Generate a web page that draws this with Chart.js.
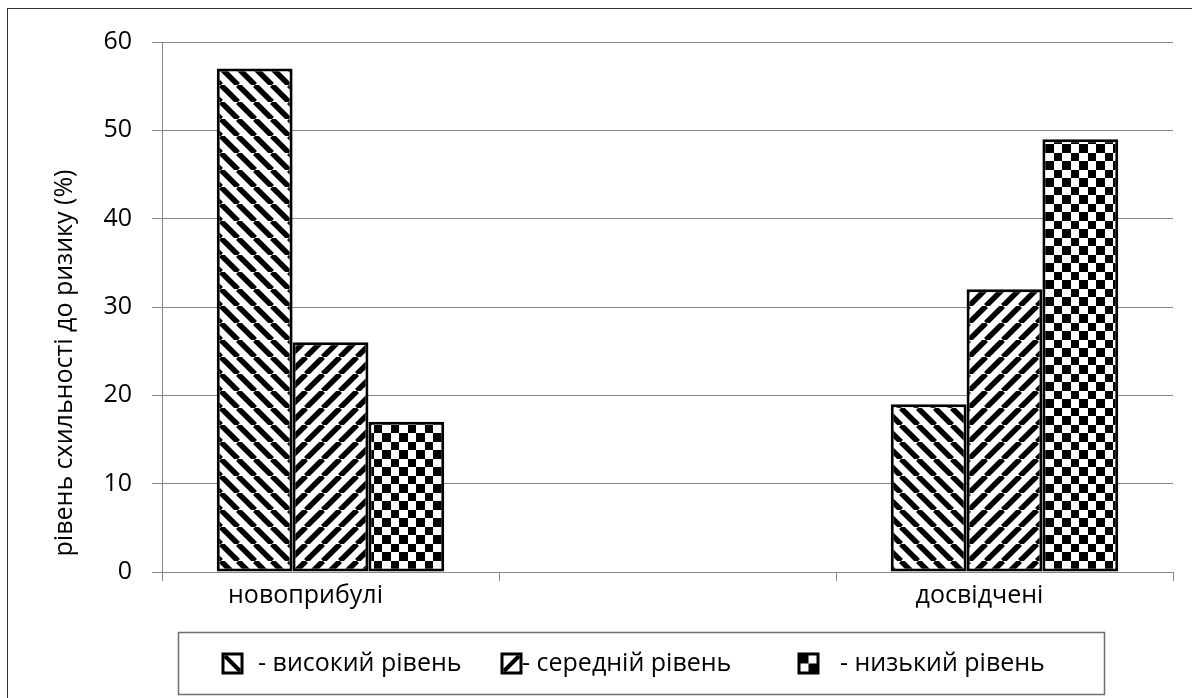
<!DOCTYPE html>
<html>
<head>
<meta charset="utf-8">
<script src="https://cdn.jsdelivr.net/npm/chart.js@4.4.1/dist/chart.umd.min.js"></script>
<style>
  html, body { margin: 0; padding: 0; background: #fff; }
  #wrap { width: 1192px; height: 698px; position: relative; }
</style>
</head>
<body>
<div id="wrap"><canvas id="riskChart" width="1192" height="698"></canvas></div>
<script>
// data
const categories = ['новоприбулі', '', 'досвідчені'];
const seriesNames = ['високий рівень', 'середній рівень', 'низький рівень'];
const highLevel = [57, null, 19];
const midLevel = [26, null, 32];
const lowLevel = [17, null, 49];
const yTicks = [0, 10, 20, 30, 40, 50, 60];
const yTitle = 'рівень схильності до ризику (%)';

const FONT = '"Open Sans", "DejaVu Sans", sans-serif';
const FONT_SIZE = 25;
const GRID = '#868686';

// hatch patterns
function stripes(dir) {
    const s = 17;
    const c = document.createElement('canvas');
    c.width = s; c.height = s;
    const g = c.getContext('2d');
    g.fillStyle = '#fff';
    g.fillRect(0, 0, s, s);
    g.strokeStyle = '#000';
    g.lineWidth = 5.5;
    g.beginPath();
    for (let k = -1; k <= 1; k++) {
        if (dir === 'back') {
            g.moveTo(k * s, 0); g.lineTo(k * s + s, s);
        } else {
            g.moveTo(k * s, s); g.lineTo(k * s + s, 0);
        }
    }
    g.stroke();
    return g.createPattern(c, 'repeat');
}

function checker() {
    const s = 17;
    const c = document.createElement('canvas');
    c.width = s; c.height = s;
    const g = c.getContext('2d');
    g.fillStyle = '#fff';
    g.fillRect(0, 0, s, s);
    g.fillStyle = '#000';
    g.fillRect(0, 0, 8, 8);
    g.fillRect(8, 8, 9, 9);
    return g.createPattern(c, 'repeat');
}

const ctx = document.getElementById('riskChart').getContext('2d');
const patterns = [stripes('back'), stripes('fwd'), checker()];

// outer frame + rotated y title
const framePlugin = {
    id: 'frame',
    afterDraw(chart) {
        const c = chart.ctx;
        const a = chart.chartArea;
        c.save();
        c.strokeStyle = '#333';
        c.lineWidth = 1;
        c.strokeRect(7.5, 8.5, 1300, 800);

        c.fillStyle = '#000';
        c.font = FONT_SIZE + 'px ' + FONT;
        c.textAlign = 'center';
        c.textBaseline = 'middle';
        c.translate(a.left - 97, (a.top + a.bottom) / 2 + 56);
        c.rotate(-Math.PI / 2);
        c.fillText(yTitle, 0, 0);
        c.restore();
    }
};

// boxed legend under the chart
const legendPlugin = {
    id: 'boxLegend',
    afterDraw(chart) {
        const c = chart.ctx;
        const iconX = [223, 502, 799];
        const textX = [258, 522, 840];
        const cy = 664;
        c.save();
        c.strokeStyle = '#6f6f6f';
        c.lineWidth = 1.5;
        c.strokeRect(178.5, 632.5, 926, 62);

        c.font = FONT_SIZE + 'px ' + FONT;
        c.textBaseline = 'middle';
        chart.data.datasets.forEach((ds, i) => {
            const x = iconX[i], y = cy - 10, w = 19;
            c.fillStyle = '#fff';
            c.fillRect(x, y, w, w);
            c.fillStyle = '#000';
            c.strokeStyle = '#000';
            if (i === 0 || i === 1) {
                c.lineWidth = 4;
                c.beginPath();
                if (i === 0) { c.moveTo(x + 2, y + 2); c.lineTo(x + w - 2, y + w - 2); }
                else { c.moveTo(x + 2, y + w - 2); c.lineTo(x + w - 2, y + 2); }
                c.stroke();
            } else {
                c.fillRect(x, y, w / 2, w / 2);
                c.fillRect(x + w / 2, y + w / 2, w / 2, w / 2);
            }
            c.lineWidth = 3;
            c.strokeRect(x, y, w, w);
            c.fillText('- ' + ds.label, textX[i], cy);
        });
        c.restore();
    }
};

new Chart(ctx, {
    type: 'bar',
    data: {
        labels: categories,
        datasets: [highLevel, midLevel, lowLevel].map((vals, i) => ({
            label: seriesNames[i],
            data: vals,
            backgroundColor: patterns[i],
            borderColor: '#000',
            borderWidth: 3,
            borderSkipped: false
        }))
    },
    options: {
        responsive: false,
        animation: false,
        events: [],
        layout: { padding: { left: 62, right: 19, top: 42, bottom: 81 } },
        plugins: {
            legend: { display: false },
            tooltip: { enabled: false }
        },
        datasets: {
            bar: { categoryPercentage: 0.675, barPercentage: 1 }
        },
        scales: {
            x: {
                offset: true,
                grid: { display: true, offset: true, drawOnChartArea: false, drawTicks: true, tickLength: 9, color: GRID },
                border: { color: GRID, width: 1 },
                ticks: { color: '#000', font: { family: FONT, size: FONT_SIZE }, padding: 0, labelOffset: -25 },
                afterFit(s) { s.height = 45; }
            },
            y: {
                min: 0,
                max: 60,
                afterBuildTicks(s) { s.ticks = yTicks.map(v => ({ value: v })); },
                grid: { color: GRID, tickLength: 10, lineWidth: 1 },
                border: { color: GRID, width: 1 },
                ticks: { color: '#000', font: { family: FONT, size: FONT_SIZE }, padding: 20 },
                afterFit(s) { s.width = 100; }
            }
        }
    },
    plugins: [framePlugin, legendPlugin]
});
</script>
</body>
</html>
